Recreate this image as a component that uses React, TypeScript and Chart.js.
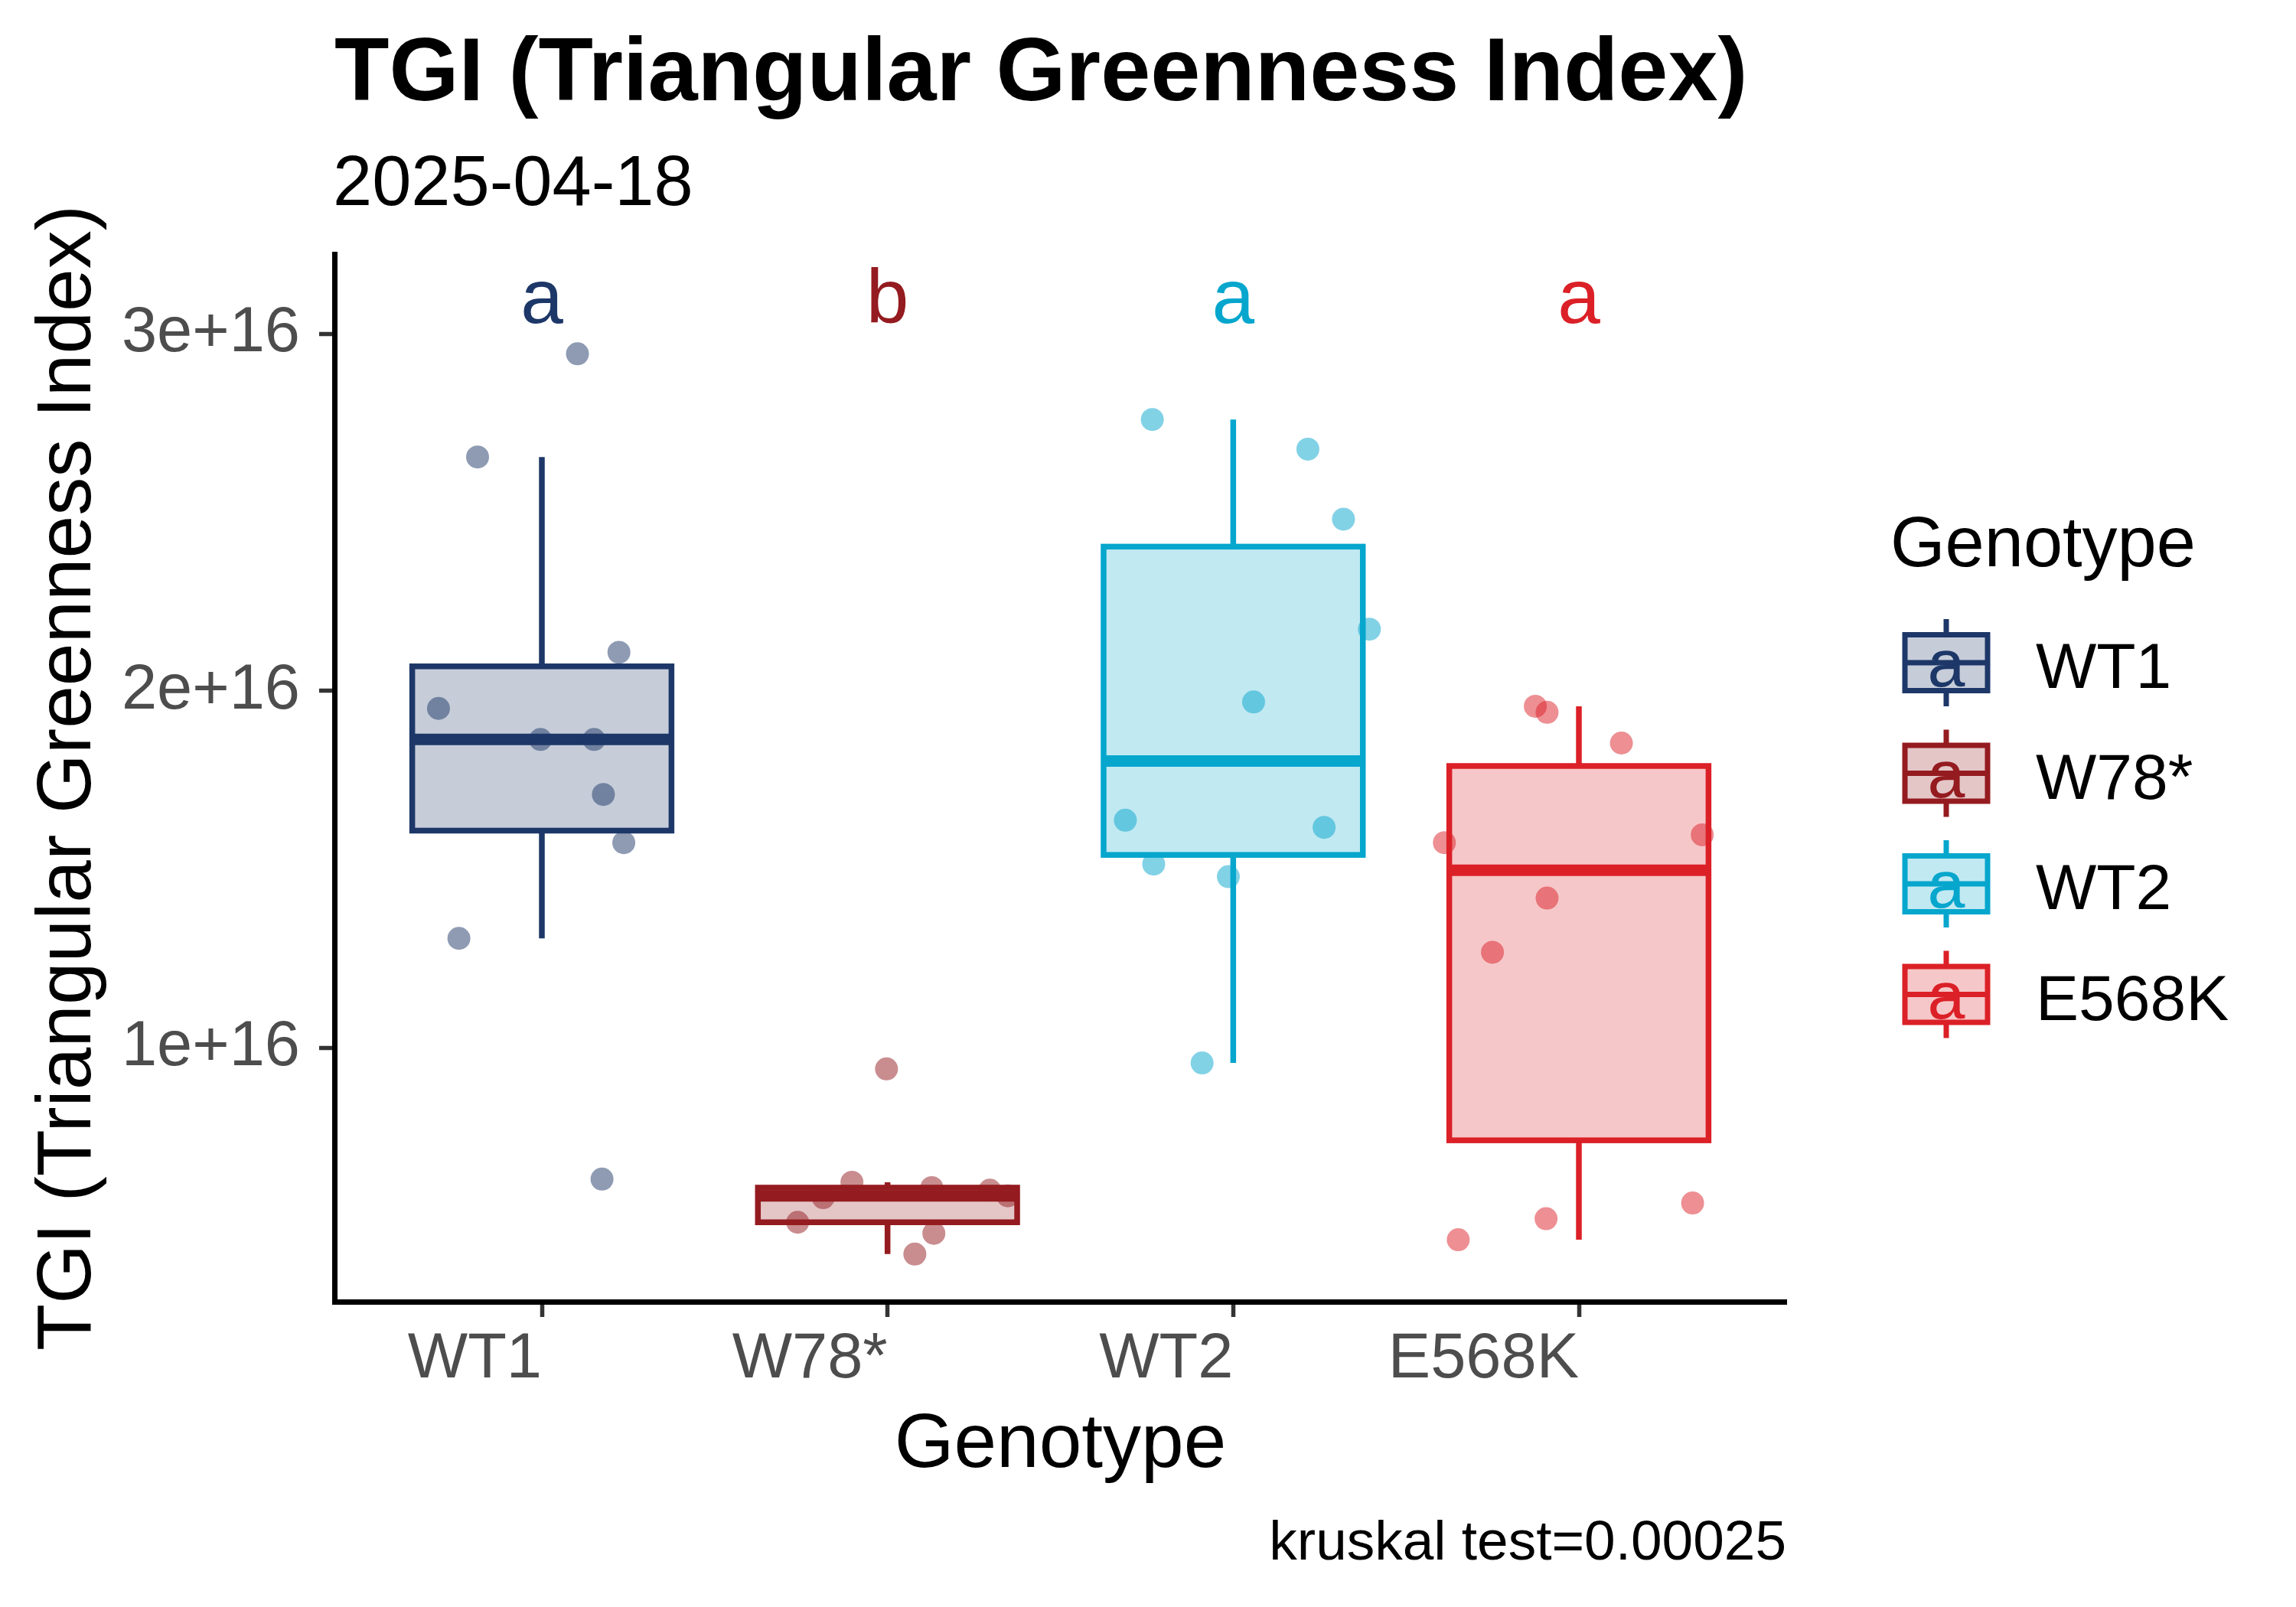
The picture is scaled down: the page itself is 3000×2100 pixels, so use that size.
import React, { useEffect, useRef } from 'react';
import Chart from 'chart.js/auto';

const FONT = "'Liberation Sans', Arial, sans-serif";

const genotypes = ['WT1', 'W78*', 'WT2', 'E568K'];
const groupLetters = ['a', 'b', 'a', 'a'];
const lineColors = ['#1D3768', '#941B1F', '#06A6CD', '#DB2027'];

// TGI values per plant
const wt1Values = [2.944e16, 2.655e16, 2.108e16, 1.951e16, 1.864e16, 1.864e16, 1.71e16, 1.575e16, 1.307e16, 0.633e16];
const w78Values = [0.9415e16, 0.624e16, 0.609e16, 0.602e16, 0.586e16, 0.581e16, 0.512e16, 0.481e16, 0.423e16];
const wt2Values = [2.76e16, 2.677e16, 2.481e16, 2.173e16, 1.969e16, 1.638e16, 1.618e16, 1.515e16, 1.48e16, 0.958e16];
const e568kValues = [1.957e16, 1.94e16, 1.854e16, 1.575e16, 1.597e16, 1.42e16, 1.268e16, 0.566e16, 0.522e16, 0.463e16];

// horizontal jitter of each point, in category units
const wt1Jitter = [0.103, -0.186, 0.223, -0.299, -0.004, 0.151, 0.178, 0.237, -0.24, 0.174];
const w78Jitter = [-0.003, -0.103, 0.128, 0.296, 0.348, -0.186, -0.26, 0.134, 0.079];
const wt2Jitter = [-0.234, 0.216, 0.319, 0.394, 0.059, -0.312, 0.263, -0.23, -0.014, -0.09];
const e568kJitter = [-0.126, -0.092, 0.123, -0.389, 0.357, -0.092, -0.25, 0.329, -0.095, -0.349];

const groupValues = [wt1Values, w78Values, wt2Values, e568kValues];
const groupJitter = [wt1Jitter, w78Jitter, wt2Jitter, e568kJitter];

const letterY = 3.09e16;
const yTicks = [1e16, 2e16, 3e16];
const yTickLabels = ['1e+16', '2e+16', '3e+16'];

const titleText = 'TGI (Triangular Greenness Index)';
const subtitleText = '2025-04-18';
const yTitleText = 'TGI (Triangular Greenness Index)';
const xTitleText = 'Genotype';
const captionText = 'kruskal test=0.00025';
const legendTitle = 'Genotype';

const BOX_WIDTH = 0.75;

function rgba(hex: string, a: number) {
  const n = parseInt(hex.slice(1), 16);
  return `rgba(${(n >> 16) & 255},${(n >> 8) & 255},${n & 255},${a})`;
}

function quantile(sorted: number[], p: number) {
  const h = (sorted.length - 1) * p;
  const lo = Math.floor(h);
  const hi = Math.ceil(h);
  return sorted[lo] + (h - lo) * (sorted[hi] - sorted[lo]);
}

function boxStats(values: number[]) {
  const s = [...values].sort((a, b) => a - b);
  const q1 = quantile(s, 0.25);
  const med = quantile(s, 0.5);
  const q3 = quantile(s, 0.75);
  const iqr = q3 - q1;
  const lo = Math.min(...s.filter((v) => v >= q1 - 1.5 * iqr));
  const hi = Math.max(...s.filter((v) => v <= q3 + 1.5 * iqr));
  return { q1, med, q3, lo, hi };
}

const stats = groupValues.map(boxStats);
const allValues = groupValues.flat();
const dataLo = Math.min(...allValues);
const dataHi = Math.max(letterY, ...allValues);
const yMin = dataLo - 0.05 * (dataHi - dataLo);
const yMax = dataHi + 0.05 * (dataHi - dataLo);

const boxPlugin = {
  id: 'ggBoxes',
  beforeDatasetsDraw(chart: any) {
    const { ctx, scales } = chart;
    const x = scales.x;
    const y = scales.y;
    stats.forEach((s, i) => {
      const col = lineColors[i];
      const xl = x.getPixelForValue(i - BOX_WIDTH / 2);
      const xr = x.getPixelForValue(i + BOX_WIDTH / 2);
      const xc = x.getPixelForValue(i);
      const yq1 = y.getPixelForValue(s.q1);
      const yq3 = y.getPixelForValue(s.q3);
      ctx.save();
      ctx.strokeStyle = col;
      ctx.lineWidth = 7.5;
      ctx.lineCap = 'butt';
      ctx.lineJoin = 'miter';
      ctx.beginPath();
      ctx.moveTo(xc, y.getPixelForValue(s.hi));
      ctx.lineTo(xc, yq3);
      ctx.moveTo(xc, yq1);
      ctx.lineTo(xc, y.getPixelForValue(s.lo));
      ctx.stroke();
      ctx.fillStyle = rgba(col, 0.25);
      ctx.fillRect(xl, yq3, xr - xl, yq1 - yq3);
      ctx.strokeRect(xl, yq3, xr - xl, yq1 - yq3);
      ctx.lineWidth = 15;
      const ym = y.getPixelForValue(s.med);
      ctx.beginPath();
      ctx.moveTo(xl, ym);
      ctx.lineTo(xr, ym);
      ctx.stroke();
      ctx.restore();
    });
  },
  afterDraw(chart: any) {
    const { ctx, chartArea, scales } = chart;
    const x = scales.x;
    const y = scales.y;
    ctx.save();

    // group letters
    ctx.font = `100px ${FONT}`;
    ctx.textAlign = 'center';
    ctx.textBaseline = 'middle';
    groupLetters.forEach((l, i) => {
      ctx.fillStyle = lineColors[i];
      ctx.fillText(l, x.getPixelForValue(i), y.getPixelForValue(letterY));
    });

    ctx.textBaseline = 'alphabetic';
    ctx.fillStyle = '#000000';
    ctx.textAlign = 'left';
    ctx.font = `bold 117px ${FONT}`;
    ctx.fillText(titleText, chartArea.left, 131);
    ctx.font = `92px ${FONT}`;
    ctx.fillText(subtitleText, chartArea.left - 2, 268);

    ctx.font = `100px ${FONT}`;
    ctx.textAlign = 'center';
    ctx.fillText(xTitleText, (chartArea.left + chartArea.right) / 2, 1917);
    ctx.save();
    ctx.translate(118, (chartArea.top + chartArea.bottom) / 2);
    ctx.rotate(-Math.PI / 2);
    ctx.fillText(yTitleText, 0, 0);
    ctx.restore();

    ctx.font = `73px ${FONT}`;
    ctx.textAlign = 'right';
    ctx.fillText(captionText, chartArea.right, 2038);

    // legend
    ctx.textAlign = 'left';
    ctx.font = `92px ${FONT}`;
    ctx.fillText(legendTitle, 2470, 740);
    const kx = 2543;
    genotypes.forEach((g, i) => {
      const ky = 866 + i * 144.5;
      const col = lineColors[i];
      ctx.strokeStyle = col;
      ctx.lineWidth = 7;
      ctx.lineCap = 'butt';
      ctx.beginPath();
      ctx.moveTo(kx, ky - 57);
      ctx.lineTo(kx, ky - 36.5);
      ctx.moveTo(kx, ky + 36.5);
      ctx.lineTo(kx, ky + 57);
      ctx.stroke();
      ctx.fillStyle = rgba(col, 0.25);
      ctx.fillRect(kx - 54, ky - 36.5, 108, 73);
      ctx.strokeRect(kx - 54, ky - 36.5, 108, 73);
      ctx.beginPath();
      ctx.moveTo(kx - 54, ky);
      ctx.lineTo(kx + 54, ky);
      ctx.stroke();
      ctx.fillStyle = col;
      ctx.font = `88px ${FONT}`;
      ctx.textAlign = 'center';
      ctx.fillText('a', kx, ky + 31);
      ctx.fillStyle = '#000000';
      ctx.textAlign = 'left';
      ctx.font = `84px ${FONT}`;
      ctx.fillText(g, 2660, ky + 33);
    });
    ctx.restore();
  },
};

export default function App() {
  const canvasRef = useRef<HTMLCanvasElement | null>(null);
  const chartRef = useRef<Chart | null>(null);

  useEffect(() => {
    if (!canvasRef.current) return;
    chartRef.current?.destroy();
    chartRef.current = new Chart(canvasRef.current, {
      type: 'scatter',
      data: {
        datasets: groupValues.map((vals, i) => ({
          label: genotypes[i],
          data: vals.map((v, k) => ({ x: i + groupJitter[i][k], y: v })),
          backgroundColor: rgba(lineColors[i], 0.5),
          borderWidth: 0,
          pointRadius: 15,
          pointBorderWidth: 0,
        })),
      },
      options: {
        animation: false,
        responsive: false,
        devicePixelRatio: 1,
        events: [],
        layout: { padding: { left: 0, top: 332, right: 666, bottom: 0 } },
        plugins: {
          legend: { display: false },
          tooltip: { enabled: false },
          title: { display: false },
        },
        scales: {
          x: {
            type: 'linear',
            min: -0.6,
            max: 3.6,
            afterBuildTicks: (s: any) => {
              s.ticks = genotypes.map((_, i) => ({ value: i }));
            },
            afterFit: (s: any) => {
              s.height = 399;
            },
            ticks: {
              autoSkip: false,
              maxRotation: 0,
              minRotation: 0,
              align: 'end',
              padding: 6,
              color: '#4D4D4D',
              font: { family: FONT, size: 83 },
              callback: (_v: any, i: number) => genotypes[i],
            },
            grid: {
              display: true,
              drawOnChartArea: false,
              drawTicks: true,
              tickLength: 20,
              tickWidth: 5.5,
              tickColor: '#333333',
            },
            border: { display: true, color: '#000000', width: 7 },
          },
          y: {
            type: 'linear',
            min: yMin,
            max: yMax,
            afterBuildTicks: (s: any) => {
              s.ticks = yTicks.map((value) => ({ value }));
            },
            afterFit: (s: any) => {
              s.width = 437;
            },
            ticks: {
              autoSkip: false,
              padding: 25,
              color: '#4D4D4D',
              font: { family: FONT, size: 83 },
              callback: (_v: any, i: number) => yTickLabels[i],
            },
            grid: {
              display: true,
              drawOnChartArea: false,
              drawTicks: true,
              tickLength: 20,
              tickWidth: 5.5,
              tickColor: '#333333',
            },
            border: { display: true, color: '#000000', width: 7 },
          },
        },
      },
      plugins: [boxPlugin],
    } as any);
    return () => {
      chartRef.current?.destroy();
      chartRef.current = null;
    };
  }, []);

  return (
    <div style={{ position: 'fixed', left: 0, top: 0, width: 3000, height: 2100, background: '#ffffff' }}>
      <canvas ref={canvasRef} width={3000} height={2100} style={{ display: 'block' }} />
    </div>
  );
}
